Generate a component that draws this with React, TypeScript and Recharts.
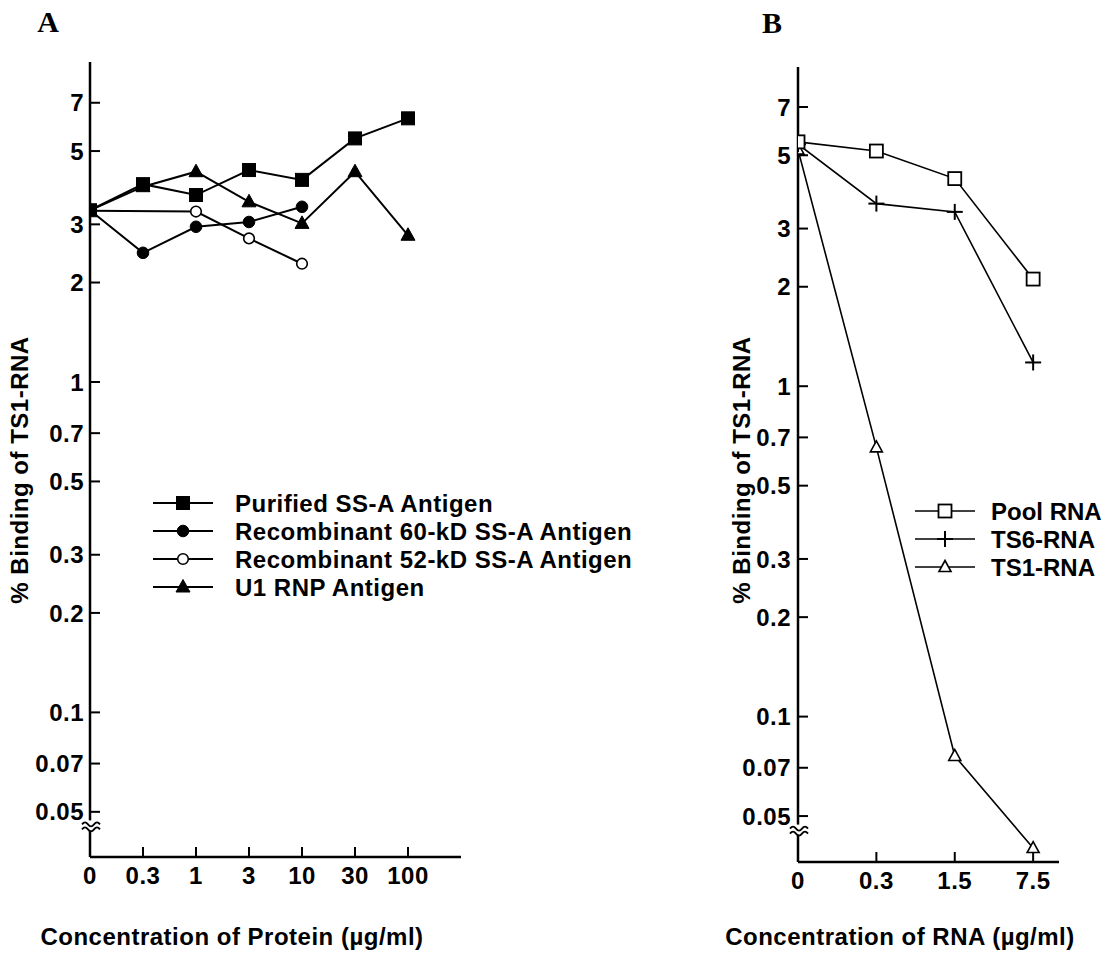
import React from 'react';
import { LineChart, Line, XAxis, YAxis, Legend } from 'recharts';

// ---------- Data ----------
const proteinConc = ['0', '0.3', '1', '3', '10', '30', '100'];
const purifiedSSA = [3.31, 3.97, 3.68, 4.38, 4.09, 5.46, 6.28];
const recomb60kD = [3.31, 2.46, 2.95, 3.05, 3.39, null, null];
const recomb52kD = [3.3, null, 3.28, 2.72, 2.28, null, null];
const u1RNP = [3.31, 3.9, 4.33, 3.51, 3.02, 4.33, 2.78];

const rnaConc = ['0', '0.3', '1.5', '7.5'];
const poolRNA = [5.49, 5.15, 4.25, 2.11];
const ts6RNA = [5.4, 3.57, 3.37, 1.18];
const ts1RNA = [5.2, 0.653, 0.076, 0.04];

const yTickValues = [0.05, 0.07, 0.1, 0.2, 0.3, 0.5, 0.7, 1, 2, 3, 5, 7];
const axisBreakValue = 0.0455;

const seriesNamesA = {
  purified: 'Purified SS-A Antigen',
  r60: 'Recombinant 60-kD SS-A Antigen',
  r52: 'Recombinant 52-kD SS-A Antigen',
  u1: 'U1 RNP Antigen',
};
const seriesNamesB = {
  pool: 'Pool RNA',
  ts6: 'TS6-RNA',
  ts1: 'TS1-RNA',
};
const legendOrderA = ['purified', 'r60', 'r52', 'u1'];
const legendOrderB = ['pool', 'ts6', 'ts1'];

const proteinData = proteinConc.map((c, i) => ({
  idx: i,
  conc: c,
  purified: purifiedSSA[i],
  r60: recomb60kD[i],
  r52: recomb52kD[i],
  u1: u1RNP[i],
}));

const rnaData = rnaConc.map((c, i) => ({
  idx: i,
  conc: c,
  pool: poolRNA[i],
  ts6: ts6RNA[i],
  ts1: ts1RNA[i],
}));

// ---------- Styles ----------
const SANS = '"Liberation Sans", Arial, Helvetica, sans-serif';
const SERIF = '"Liberation Serif", "Times New Roman", serif';
const FONT_SIZE = 24;
const LS = 0.5;

// ---------- Marker shapes ----------
type Shape = 'fsquare' | 'fcircle' | 'ocircle' | 'ftriangle' | 'osquare' | 'plus' | 'otriangle';

const drawMarker = (shape: Shape, cx: number, cy: number, key?: any) => {
  switch (shape) {
    case 'fsquare':
      return <rect key={key} x={cx - 6.5} y={cy - 6.5} width={13} height={13} fill="#000" stroke="#000" strokeWidth={1} />;
    case 'osquare':
      return <rect key={key} x={cx - 6.5} y={cy - 6.5} width={13} height={13} fill="#fff" stroke="#000" strokeWidth={1.8} />;
    case 'fcircle':
      return <circle key={key} cx={cx} cy={cy} r={5.8} fill="#000" stroke="#000" strokeWidth={1} />;
    case 'ocircle':
      return <circle key={key} cx={cx} cy={cy} r={5.3} fill="#fff" stroke="#000" strokeWidth={1.6} />;
    case 'ftriangle':
      return (
        <path key={key} d={`M${cx},${cy - 7.5} L${cx + 7},${cy + 5} L${cx - 7},${cy + 5} Z`} fill="#000" stroke="#000" strokeWidth={1} />
      );
    case 'otriangle':
      return (
        <path key={key} d={`M${cx},${cy - 6.5} L${cx + 6},${cy + 4.5} L${cx - 6},${cy + 4.5} Z`} fill="#fff" stroke="#000" strokeWidth={1.6} />
      );
    case 'plus':
      return (
        <g key={key}>
          <line x1={cx - 8} x2={cx + 8} y1={cy} y2={cy} stroke="#000" strokeWidth={2} />
          <line x1={cx} x2={cx} y1={cy - 8} y2={cy + 8} stroke="#000" strokeWidth={2} />
        </g>
      );
  }
  return null;
};

const makeDot = (shape: Shape) => (props: any) => {
  const { cx, cy, value, index } = props;
  if (cx == null || cy == null || value == null || Number.isNaN(cy)) return <g key={`e${index}`} />;
  return drawMarker(shape, cx, cy, `d${index}`);
};

const shapesA: Record<string, Shape> = { purified: 'fsquare', r60: 'fcircle', r52: 'ocircle', u1: 'ftriangle' };
const shapesB: Record<string, Shape> = { pool: 'osquare', ts6: 'plus', ts1: 'otriangle' };

// ---------- Axis ticks ----------
const makeYTick = (labelGap: number) => (props: any) => {
  const { x, y, payload } = props;
  if (payload.value === axisBreakValue) {
    return (
      <g>
        <rect x={x - 4} y={y - 5} width={8} height={10} fill="#fff" />
        <path d={`M${x - 8},${y - 1} q3,-4 6,0 t6,0 t6,0`} fill="none" stroke="#000" strokeWidth={1.8} />
        <path d={`M${x - 8},${y + 4} q3,-4 6,0 t6,0 t6,0`} fill="none" stroke="#000" strokeWidth={1.8} />
      </g>
    );
  }
  return (
    <g>
      <line x1={x} x2={x + 10} y1={y} y2={y} stroke="#000" strokeWidth={2} />
      <text x={x - labelGap} y={y} dy="0.36em" textAnchor="end" fontFamily={SANS} fontWeight="bold" fontSize={FONT_SIZE} letterSpacing={LS} fill="#000">
        {payload.value}
      </text>
    </g>
  );
};

const makeXTick = (labels: string[]) => (props: any) => {
  const { x, y, payload } = props;
  return (
    <g>
      <line x1={x} x2={x} y1={y} y2={y - 10} stroke="#000" strokeWidth={2} />
      <text x={x} y={y + 27} textAnchor="middle" fontFamily={SANS} fontWeight="bold" fontSize={FONT_SIZE} letterSpacing={LS} fill="#000">
        {labels[payload.value]}
      </text>
    </g>
  );
};

// ---------- Legends ----------
const makeLegend = (
  order: string[],
  shapes: Record<string, Shape>,
  names: Record<string, string>,
  lineW: number,
  textX: number,
  ls: number
) => (props: any) => {
  const payload = (props.payload || []) as any[];
  const sorted = order
    .map((k) => payload.find((p) => p.dataKey === k))
    .filter(Boolean);
  return (
    <svg width={480} height={order.length * 28 + 10} style={{ overflow: 'visible', display: 'block' }}>
      {sorted.map((p: any, i: number) => {
        const cy = 13 + i * 28;
        return (
          <g key={p.dataKey}>
            <line x1={3} x2={63} y1={cy} y2={cy} stroke="#000" strokeWidth={lineW} />
            {drawMarker(shapes[p.dataKey], 33, cy)}
            <text x={textX} y={cy} dy="0.36em" fontFamily={SANS} fontWeight="bold" fontSize={FONT_SIZE} letterSpacing={ls} fill="#000">
              {names[p.dataKey]}
            </text>
          </g>
        );
      })}
    </svg>
  );
};

const legendA = makeLegend(legendOrderA, shapesA, seriesNamesA, 2, 85, LS);
const legendB = makeLegend(legendOrderB, shapesB, seriesNamesB, 1.6, 79, 0);

const yTicksAll = [axisBreakValue, ...yTickValues];

export default function App() {
  return (
    <div style={{ position: 'absolute', left: 0, top: 0, width: 1107, height: 953, background: '#fff', overflow: 'hidden' }}>
      {/* Panel A */}
      <div style={{ position: 'absolute', left: 0, top: 0 }}>
        <LineChart width={560} height={953} data={proteinData} margin={{ top: 62, right: 99, left: 30, bottom: 0 }}>
          <XAxis
            dataKey="idx"
            type="number"
            domain={[0, 7]}
            ticks={[0, 1, 2, 3, 4, 5, 6]}
            allowDataOverflow
            height={96}
            tickSize={0}
            tickMargin={0}
            axisLine={{ stroke: '#000', strokeWidth: 2.5 }}
            tickLine={false}
            tick={makeXTick(proteinConc)}
            interval={0}
          />
          <YAxis
            scale="log"
            type="number"
            domain={[0.0365, 9.3]}
            allowDataOverflow
            ticks={yTicksAll}
            width={60}
            tickSize={0}
            tickMargin={0}
            axisLine={{ stroke: '#000', strokeWidth: 2.5 }}
            tickLine={false}
            tick={makeYTick(6)}
            interval={0}
          />
          <Legend
            layout="horizontal"
            verticalAlign="middle"
            align="center"
            content={legendA}
            wrapperStyle={{ position: 'absolute', left: 150, top: 490, width: 480, height: 130 }}
          />
          <Line dataKey="u1" name={seriesNamesA.u1} stroke="#000" strokeWidth={2} dot={makeDot('ftriangle')} isAnimationActive={false} connectNulls />
          <Line dataKey="r52" name={seriesNamesA.r52} stroke="#000" strokeWidth={2} dot={makeDot('ocircle')} isAnimationActive={false} connectNulls />
          <Line dataKey="r60" name={seriesNamesA.r60} stroke="#000" strokeWidth={2} dot={makeDot('fcircle')} isAnimationActive={false} connectNulls />
          <Line dataKey="purified" name={seriesNamesA.purified} stroke="#000" strokeWidth={2} dot={makeDot('fsquare')} isAnimationActive={false} connectNulls />
        </LineChart>
      </div>

      {/* Panel B */}
      <div style={{ position: 'absolute', left: 700, top: 0 }}>
        <LineChart width={407} height={953} data={rnaData} margin={{ top: 67, right: 48, left: 38, bottom: 0 }}>
          <XAxis
            dataKey="idx"
            type="number"
            domain={[0, 3.33]}
            ticks={[0, 1, 2, 3]}
            allowDataOverflow
            height={91}
            tickSize={0}
            tickMargin={0}
            axisLine={{ stroke: '#000', strokeWidth: 2.5 }}
            tickLine={false}
            tick={makeXTick(rnaConc)}
            interval={0}
          />
          <YAxis
            scale="log"
            type="number"
            domain={[0.0363, 9.25]}
            allowDataOverflow
            ticks={yTicksAll}
            width={60}
            tickSize={0}
            tickMargin={0}
            axisLine={{ stroke: '#000', strokeWidth: 2.5 }}
            tickLine={false}
            tick={makeYTick(7)}
            interval={0}
          />
          <Legend
            layout="horizontal"
            verticalAlign="middle"
            align="center"
            content={legendB}
            wrapperStyle={{ position: 'absolute', left: 212, top: 498, width: 195, height: 100 }}
          />
          <Line dataKey="ts1" name={seriesNamesB.ts1} stroke="#000" strokeWidth={1.6} dot={makeDot('otriangle')} isAnimationActive={false} />
          <Line dataKey="ts6" name={seriesNamesB.ts6} stroke="#000" strokeWidth={1.6} dot={makeDot('plus')} isAnimationActive={false} />
          <Line dataKey="pool" name={seriesNamesB.pool} stroke="#000" strokeWidth={1.6} dot={makeDot('osquare')} isAnimationActive={false} />
        </LineChart>
      </div>

      {/* Titles and panel letters */}
      <svg width={1107} height={953} style={{ position: 'absolute', left: 0, top: 0, pointerEvents: 'none' }}>
        <text x={48} y={32} textAnchor="middle" fontFamily={SERIF} fontWeight="bold" fontSize={30} fill="#000">A</text>
        <text x={772} y={33} textAnchor="middle" fontFamily={SERIF} fontWeight="bold" fontSize={30} fill="#000">B</text>
        <text x={232} y={945} textAnchor="middle" fontFamily={SANS} fontWeight="bold" fontSize={FONT_SIZE} letterSpacing={LS} fill="#000">
          Concentration of Protein (µg/ml)
        </text>
        <text x={900} y={945} textAnchor="middle" fontFamily={SANS} fontWeight="bold" fontSize={FONT_SIZE} letterSpacing={LS} fill="#000">
          Concentration of RNA (µg/ml)
        </text>
        <text transform="translate(28,470) rotate(-90)" textAnchor="middle" fontFamily={SANS} fontWeight="bold" fontSize={FONT_SIZE} letterSpacing={LS} fill="#000">
          % Binding of TS1-RNA
        </text>
        <text transform="translate(750,470) rotate(-90)" textAnchor="middle" fontFamily={SANS} fontWeight="bold" fontSize={FONT_SIZE} letterSpacing={LS} fill="#000">
          % Binding of TS1-RNA
        </text>
      </svg>
    </div>
  );
}
